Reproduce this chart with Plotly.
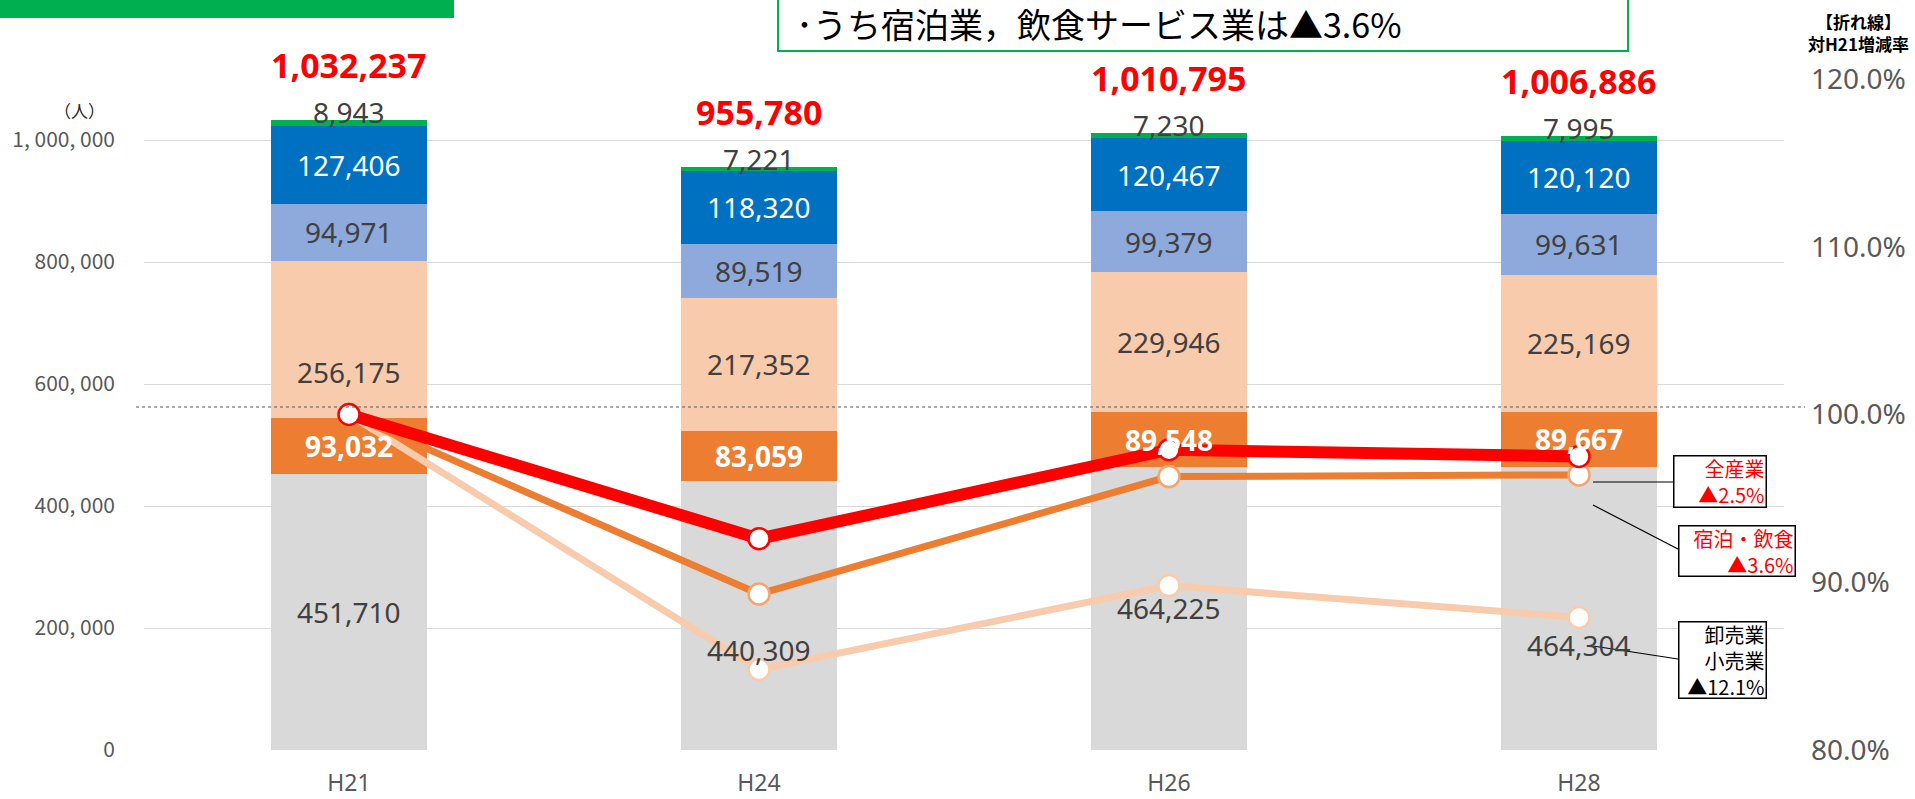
import plotly.graph_objects as go

# ---------------- data ----------------
years = ["H21", "H24", "H26", "H28"]
other = [451710, 440309, 464225, 464304]          # gray
lodging_food = [93032, 83059, 89548, 89667]       # orange
wholesale_retail = [256175, 217352, 229946, 225169]  # peach
seg_lightblue = [94971, 89519, 99379, 99631]
seg_blue = [127406, 118320, 120467, 120120]
seg_green = [8943, 7221, 7230, 7995]
totals = [1032237, 955780, 1010795, 1006886]

# line series: ratio to H21 (%)
rate_all = [100.0, 92.6, 97.9, 97.5]
rate_lodging = [100.0, 89.3, 96.3, 96.4]
rate_wholesale = [100.0, 84.8, 89.8, 87.9]

left_ticks = [0, 200000, 400000, 600000, 800000, 1000000]
left_tick_text = ["0", "200, 000", "400, 000", "600, 000", "800, 000", "1, 000, 000"]
right_ticks = [80, 90, 100, 110, 120]
right_tick_text = ["80.0%", "90.0%", "100.0%", "110.0%", "120.0%"]

# ---------------- layout geometry ----------------
W, H = 1915, 799
ML, MR, MT, MB = 144, 131, 79, 49
PW = W - ML - MR
PH = H - MT - MB


def px(x):
    return (x - ML) / PW


def py(y):
    return (H - MB - y) / PH


C_GRAY = "#D9D9D9"
C_ORANGE = "#ED7D31"
C_PEACH = "#F8CBAD"
C_LBLUE = "#8EA9DB"
C_BLUE = "#0070C0"
C_GREEN = "#00B050"
NUMFONT = "Noto Sans"
JPFONT = "Noto Sans CJK JP"

fig = go.Figure()

segments = [
    (other, C_GRAY),
    (lodging_food, C_ORANGE),
    (wholesale_retail, C_PEACH),
    (seg_lightblue, C_LBLUE),
    (seg_blue, C_BLUE),
    (seg_green, C_GREEN),
]
for vals, col in segments:
    fig.add_trace(go.Bar(x=years, y=vals, marker=dict(color=col, line=dict(width=0)),
                         hoverinfo="skip", showlegend=False))

# lines on secondary axis
fig.add_trace(go.Scatter(x=years, y=rate_wholesale, yaxis="y2", mode="lines+markers",
                         line=dict(color=C_PEACH, width=7),
                         marker=dict(size=21, color="white", line=dict(color=C_PEACH, width=2.5)),
                         showlegend=False, hoverinfo="skip"))
fig.add_trace(go.Scatter(x=years, y=rate_lodging, yaxis="y2", mode="lines+markers",
                         line=dict(color=C_ORANGE, width=7),
                         marker=dict(size=21, color="white", line=dict(color="#F4A46E", width=2.5)),
                         showlegend=False, hoverinfo="skip"))
fig.add_trace(go.Scatter(x=years, y=rate_all, yaxis="y2", mode="lines+markers",
                         line=dict(color="#FF0000", width=12),
                         marker=dict(size=21, color="white", line=dict(color="#FF0000", width=2.5)),
                         showlegend=False, hoverinfo="skip"))

annotations = []

# segment labels
label_styles = [
    (other, "#404040", False, [0, -34, 0, -37]),
    (lodging_food, "white", True, [0, 0, 0, 0]),
    (wholesale_retail, "#404040", False, [-32, 0, 0, 0]),
    (seg_lightblue, "#404040", False, [0, 0, 0, 0]),
    (seg_blue, "white", False, [0, 0, 0, 0]),
]
base = [0] * len(years)
for vals, col, bold, shifts in label_styles:
    for i, yr in enumerate(years):
        mid = base[i] + vals[i] / 2
        txt = f"{vals[i]:,}"
        if bold:
            txt = f"<b>{txt}</b>"
        annotations.append(dict(x=yr, y=mid, xref="x", yref="y", text=txt, showarrow=False,
                                xanchor="center", yanchor="middle",
                                yshift=shifts[i], font=dict(family=NUMFONT, size=28, color=col)))
        base[i] += vals[i]
for i, yr in enumerate(years):
    top = base[i] + seg_green[i]
    annotations.append(dict(x=yr, y=top, xref="x", yref="y", text=f"{seg_green[i]:,}",
                            showarrow=False, yshift=8, xanchor="center", yanchor="middle",
                            font=dict(family=NUMFONT, size=28, color="#404040")))
    annotations.append(dict(x=yr, y=totals[i], xref="x", yref="y", text=f"<b>{totals[i]:,}</b>",
                            showarrow=False, yshift=55, xanchor="center", yanchor="middle",
                            font=dict(family=NUMFONT, size=34, color="#FF0000")))


def paper_text(xp, yp, text, size, color="#000000", xanchor="center", **kw):
    return dict(x=px(xp), y=py(yp), xref="paper", yref="paper", text=text, showarrow=False,
                xanchor=xanchor, yanchor="middle", font=dict(family=JPFONT, size=size, color=color), **kw)


# unit label
annotations.append(paper_text(79, 110, "（人）", 17, "#262626"))
# right axis title (two lines)
annotations.append(paper_text(1859, 33, "<b>【折れ線】<br>対H21増減率</b>", 17))
# top message
annotations.append(paper_text(794, 23, "･うち宿泊業，飲食サービス業は▲3.6%", 34, xanchor="left"))

# callout boxes
boxes = [
    (1720, 481.5, 89, 48, "全産業<br>▲2.5%", "#FF0000"),
    (1737, 551, 113, 47, "宿泊・飲食<br>▲3.6%", "#FF0000"),
    (1722.5, 660, 84, 73, "卸売業<br>小売業<br>▲12.1%", "#000000"),
]
for cx, cy, bw, bh, txt, col in boxes:
    annotations.append(paper_text(cx, cy, txt, 20, col, align="right", width=bw, height=bh,
                                  bgcolor="white", bordercolor="#000000", borderwidth=1.5,
                                  borderpad=1))

shapes = [
    # green strip top-left
    dict(type="rect", xref="paper", yref="paper", x0=px(0), x1=px(454), y0=py(-10), y1=py(18),
         fillcolor=C_GREEN, line=dict(width=0), layer="above"),
    # message box
    dict(type="rect", xref="paper", yref="paper", x0=px(778), x1=px(1628), y0=py(-20), y1=py(51),
         fillcolor="white", line=dict(color=C_GREEN, width=2), layer="below"),
    # dotted 100% reference line
    dict(type="line", xref="paper", yref="paper", x0=px(136), x1=px(1805), y0=py(407), y1=py(407),
         line=dict(color="#595959", width=1.2, dash="dot"), layer="above"),
    # leader lines
    dict(type="line", xref="paper", yref="paper", x0=px(1593), x1=px(1673), y0=py(482), y1=py(482),
         line=dict(color="#000000", width=1.2), layer="above"),
    dict(type="line", xref="paper", yref="paper", x0=px(1593), x1=px(1678), y0=py(505), y1=py(549),
         line=dict(color="#000000", width=1.2), layer="above"),
    dict(type="line", xref="paper", yref="paper", x0=px(1593), x1=px(1678), y0=py(646), y1=py(659),
         line=dict(color="#000000", width=1.2), layer="above"),
]

fig.update_layout(
    width=W, height=H,
    margin=dict(l=ML, r=MR, t=MT, b=MB, pad=0),
    paper_bgcolor="white", plot_bgcolor="white",
    barmode="stack", bargap=0.62,
    showlegend=False,
    xaxis=dict(type="category", showgrid=False, showline=False, zeroline=False, ticks="",
               automargin=False,
               tickfont=dict(family=NUMFONT, size=23, color="#595959"), ticklabelstandoff=17),
    yaxis=dict(range=[0, 1100000], tickvals=left_ticks, ticktext=left_tick_text, automargin=False,
               showgrid=True, gridcolor="#D9D9D9", gridwidth=1.3, zeroline=False, showline=False,
               ticks="", tickfont=dict(family=JPFONT, size=21, color="#595959"),
               ticklabelstandoff=28),
    yaxis2=dict(range=[80, 120], tickvals=right_ticks, ticktext=right_tick_text, automargin=False,
                overlaying="y", side="right", showgrid=False, zeroline=False, showline=False,
                ticks="", tickfont=dict(family=NUMFONT, size=28, color="#595959"),
                ticklabelstandoff=26),
    annotations=annotations,
    shapes=shapes,
)

fig.write_html("out.html", config={"displayModeBar": False},
               post_script="document.body.style.margin='0';document.body.style.overflow='hidden';")
